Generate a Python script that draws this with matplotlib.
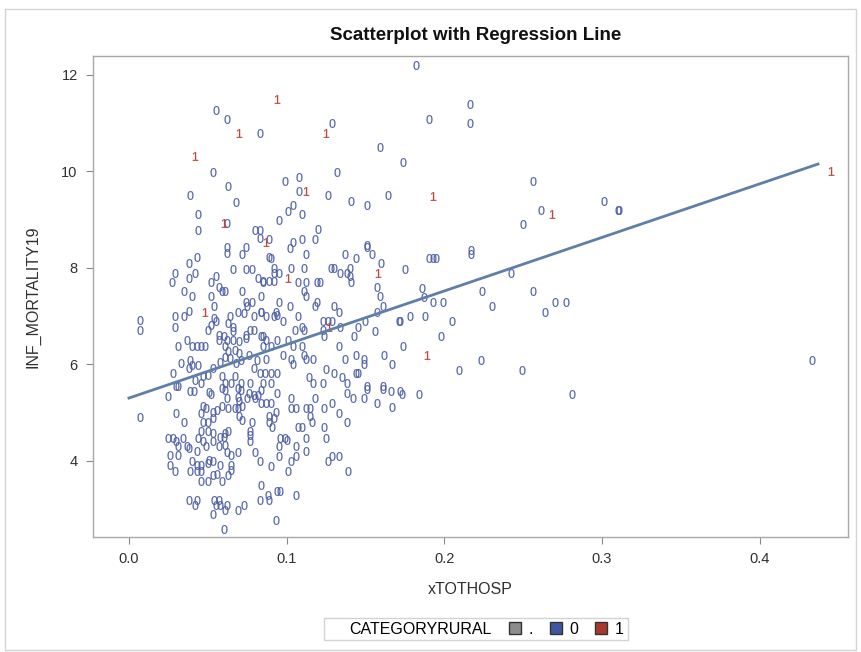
import numpy as np
import matplotlib
matplotlib.use("Agg")
import matplotlib.pyplot as plt
from matplotlib.lines import Line2D
from matplotlib.patches import Rectangle

plt.rcParams['font.family'] = ['Liberation Sans', 'DejaVu Sans']
plt.rcParams['mathtext.fontset'] = 'custom'
plt.rcParams['mathtext.rm'] = 'Liberation Sans'
plt.rcParams['mathtext.it'] = 'Liberation Sans'

# CATEGORYRURAL = 0 as (xTOTHOSP, INF_MORTALITY19)
rural0_top = [
    (0.055, 11.27), (0.062, 11.09), (0.083, 10.80), (0.053, 9.99), (0.063, 9.70), (0.039, 9.50),
    (0.068, 9.37), (0.044, 9.12), (0.062, 8.93), (0.044, 8.79), (0.080, 8.79), (0.083, 8.79),
    (0.083, 8.62), (0.129, 11.00), (0.159, 10.50), (0.174, 10.20), (0.132, 9.99), (0.099, 9.80),
    (0.108, 9.89), (0.108, 9.60), (0.126, 9.50), (0.141, 9.39), (0.151, 9.30), (0.164, 9.50),
    (0.104, 9.30), (0.101, 9.18), (0.110, 9.11), (0.095, 8.99), (0.120, 8.81), (0.089, 8.60),
    (0.104, 8.54), (0.110, 8.60), (0.118, 8.60), (0.151, 8.48), (0.182, 12.21), (0.216, 11.40),
    (0.190, 11.09), (0.216, 11.00),
]
rural0_right = [
    (0.256, 9.80), (0.261, 9.19), (0.250, 8.91), (0.301, 9.39), (0.310, 9.19), (0.311, 9.19),
    (0.217, 8.37), (0.190, 8.21), (0.193, 8.21), (0.195, 8.21), (0.217, 8.29), (0.175, 7.98),
    (0.242, 7.89), (0.186, 7.59), (0.187, 7.40), (0.193, 7.29), (0.199, 7.29), (0.224, 7.51),
    (0.230, 7.20), (0.256, 7.51), (0.270, 7.29), (0.277, 7.29), (0.264, 7.09), (0.172, 6.90),
    (0.178, 7.00), (0.188, 7.00), (0.205, 6.90), (0.198, 6.58), (0.174, 6.38), (0.223, 6.08),
    (0.209, 5.89), (0.249, 5.89), (0.433, 6.08), (0.173, 5.38), (0.184, 5.38), (0.281, 5.38),
]
rural0_mid_left = [
    (0.062, 8.44), (0.062, 8.30), (0.074, 8.44), (0.072, 8.29), (0.043, 8.23), (0.038, 8.10),
    (0.029, 7.90), (0.027, 7.70), (0.038, 7.79), (0.042, 7.90), (0.055, 7.83), (0.052, 7.70),
    (0.057, 7.61), (0.059, 7.51), (0.061, 7.51), (0.066, 7.98), (0.074, 7.98), (0.078, 7.98),
    (0.082, 7.79), (0.085, 7.70), (0.072, 7.51), (0.078, 7.30), (0.074, 7.30), (0.075, 7.20),
    (0.084, 7.09), (0.035, 7.51), (0.040, 7.41), (0.052, 7.41), (0.038, 7.11), (0.035, 7.00),
    (0.029, 7.00), (0.029, 6.78), (0.054, 7.21), (0.055, 6.90), (0.050, 6.71), (0.052, 6.82),
    (0.069, 7.09), (0.073, 7.07), (0.064, 7.00), (0.079, 7.00), (0.066, 6.78), (0.066, 6.68),
    (0.074, 6.61), (0.074, 6.54), (0.077, 6.71), (0.079, 6.71), (0.057, 6.61), (0.060, 6.58),
    (0.057, 6.51), (0.062, 6.51), (0.066, 6.51), (0.085, 6.58), (0.085, 6.37), (0.037, 6.51),
    (0.040, 6.38), (0.043, 6.38), (0.046, 6.38), (0.048, 6.38), (0.031, 6.38), (0.061, 6.37),
    (0.063, 6.27), (0.061, 6.16), (0.067, 6.30), (0.070, 6.23), (0.071, 6.09), (0.068, 6.02),
    (0.081, 6.09), (0.079, 5.92), (0.083, 5.82), (0.033, 6.02), (0.039, 6.09), (0.040, 5.99),
    (0.038, 5.92), (0.044, 5.99), (0.028, 5.82), (0.053, 5.92), (0.050, 5.78), (0.047, 5.75),
    (0.042, 5.68), (0.046, 5.61), (0.061, 5.61), (0.065, 5.61), (0.071, 5.61), (0.077, 5.61),
    (0.059, 5.75), (0.067, 5.75), (0.031, 5.54), (0.007, 6.92), (0.007, 6.71),
    (0.054, 6.95), (0.063, 6.85), (0.070, 6.48), (0.064, 6.12), (0.076, 6.20), (0.058, 6.05),
]
rural0_mid_right = [
    (0.102, 8.41), (0.112, 8.29), (0.089, 8.23), (0.090, 8.20), (0.137, 8.29), (0.144, 8.20),
    (0.151, 8.43), (0.154, 8.29), (0.160, 8.10), (0.092, 7.99), (0.092, 7.90), (0.095, 7.90),
    (0.103, 7.99), (0.111, 7.99), (0.085, 7.72), (0.089, 7.72), (0.092, 7.72), (0.107, 7.70),
    (0.112, 7.70), (0.119, 7.70), (0.121, 7.70), (0.128, 7.99), (0.130, 7.99), (0.134, 7.90),
    (0.138, 7.90), (0.140, 7.99), (0.140, 7.82), (0.141, 7.70), (0.111, 7.51), (0.112, 7.41),
    (0.157, 7.60), (0.159, 7.41), (0.161, 7.20), (0.157, 7.09), (0.084, 7.41), (0.095, 7.30),
    (0.093, 7.09), (0.094, 7.03), (0.102, 7.20), (0.119, 7.30), (0.118, 7.20), (0.130, 7.20),
    (0.133, 7.09), (0.084, 7.09), (0.087, 7.00), (0.092, 7.00), (0.098, 6.89), (0.107, 7.00),
    (0.123, 6.90), (0.126, 6.90), (0.129, 6.90), (0.134, 6.77), (0.124, 6.58), (0.123, 6.71),
    (0.105, 6.71), (0.110, 6.77), (0.111, 6.71), (0.084, 6.58), (0.087, 6.51), (0.094, 6.51),
    (0.101, 6.51), (0.104, 6.37), (0.110, 6.38), (0.090, 6.38), (0.098, 6.20), (0.111, 6.20),
    (0.103, 6.11), (0.104, 6.01), (0.112, 6.11), (0.117, 6.11), (0.087, 6.11), (0.133, 6.38),
    (0.143, 6.59), (0.145, 6.78), (0.156, 6.69), (0.150, 6.89), (0.171, 6.89), (0.144, 6.20),
    (0.149, 6.11), (0.149, 6.01), (0.137, 6.11), (0.162, 6.20), (0.167, 6.01), (0.125, 5.90),
    (0.130, 5.82), (0.135, 5.73), (0.138, 5.61), (0.144, 5.82), (0.145, 5.82), (0.086, 5.82),
    (0.090, 5.82), (0.094, 5.82), (0.085, 5.61), (0.090, 5.61), (0.114, 5.73), (0.117, 5.61),
    (0.123, 5.61), (0.151, 5.54), (0.161, 5.54),
]
rural0_low_left = [
    (0.030, 5.55), (0.025, 5.35), (0.039, 5.44), (0.041, 5.44), (0.051, 5.42), (0.052, 5.39),
    (0.059, 5.51), (0.061, 5.47), (0.069, 5.51), (0.071, 5.47), (0.076, 5.40), (0.079, 5.37),
    (0.082, 5.37), (0.084, 5.47), (0.062, 5.30), (0.007, 4.91), (0.030, 5.00), (0.035, 4.80),
    (0.047, 5.13), (0.049, 5.09), (0.053, 5.02), (0.056, 5.06), (0.059, 5.13), (0.063, 5.09),
    (0.067, 5.09), (0.070, 5.23), (0.069, 5.09), (0.072, 5.13), (0.069, 5.33), (0.075, 5.30),
    (0.080, 5.30), (0.070, 4.92), (0.072, 4.85), (0.046, 4.99), (0.047, 4.81), (0.050, 4.81),
    (0.053, 4.88), (0.078, 4.81), (0.077, 4.61), (0.077, 4.54), (0.046, 4.61), (0.050, 4.61),
    (0.053, 4.57), (0.058, 4.50), (0.060, 4.50), (0.061, 4.57), (0.063, 4.61), (0.025, 4.48),
    (0.028, 4.48), (0.034, 4.48), (0.044, 4.48), (0.030, 4.40), (0.031, 4.30), (0.037, 4.30),
    (0.038, 4.26), (0.043, 4.21), (0.047, 4.40), (0.049, 4.30), (0.053, 4.40), (0.057, 4.30),
    (0.061, 4.33), (0.062, 4.19), (0.065, 4.12), (0.069, 4.19), (0.077, 4.40), (0.080, 4.19),
    (0.083, 3.99), (0.026, 4.12), (0.026, 3.92), (0.029, 3.79), (0.031, 4.12), (0.040, 4.00),
    (0.043, 3.92), (0.043, 3.78), (0.039, 3.79), (0.046, 3.92), (0.046, 3.78), (0.051, 4.02),
    (0.053, 3.99), (0.050, 3.95), (0.058, 3.92), (0.065, 3.92), (0.065, 3.81), (0.046, 3.59),
    (0.050, 3.59), (0.053, 3.71), (0.056, 3.73), (0.059, 3.58), (0.063, 3.71), (0.084, 3.50),
    (0.083, 3.19), (0.038, 3.19), (0.043, 3.19), (0.042, 3.09), (0.054, 3.19), (0.057, 3.19),
    (0.055, 3.09), (0.058, 3.09), (0.062, 3.09), (0.061, 2.98), (0.053, 2.90), (0.069, 2.98),
    (0.073, 3.09), (0.060, 2.59),
]
rural0_low_right = [
    (0.094, 5.40), (0.084, 5.19), (0.087, 5.19), (0.090, 5.19), (0.093, 5.02), (0.092, 4.88),
    (0.089, 4.92), (0.089, 4.81), (0.091, 4.69), (0.103, 5.30), (0.103, 5.09), (0.106, 5.09),
    (0.112, 5.09), (0.115, 5.09), (0.115, 4.92), (0.116, 4.80), (0.118, 5.30), (0.124, 5.09),
    (0.129, 5.19), (0.133, 4.99), (0.138, 4.80), (0.138, 5.40), (0.142, 5.30), (0.149, 5.30),
    (0.151, 5.49), (0.157, 5.19), (0.161, 5.49), (0.166, 5.44), (0.172, 5.44), (0.167, 5.12),
    (0.107, 4.69), (0.110, 4.69), (0.112, 4.48), (0.124, 4.69), (0.125, 4.48), (0.096, 4.48),
    (0.099, 4.48), (0.100, 4.44), (0.095, 4.30), (0.095, 4.09), (0.106, 4.30), (0.106, 4.09),
    (0.103, 3.99), (0.101, 3.79), (0.112, 4.21), (0.129, 4.10), (0.133, 4.10), (0.126, 3.99),
    (0.139, 3.79), (0.090, 3.90), (0.088, 3.30), (0.089, 3.19), (0.094, 3.38), (0.096, 3.38),
    (0.106, 3.30), (0.093, 2.78),
]

# CATEGORYRURAL = 1
rural1 = [
    (0.094, 11.50), (0.070, 10.80), (0.125, 10.80), (0.042, 10.31), (0.060, 8.93), (0.112, 9.60),
    (0.087, 8.54), (0.048, 7.09), (0.101, 7.79), (0.158, 7.90), (0.127, 6.78), (0.193, 9.49),
    (0.268, 9.11), (0.189, 6.20), (0.445, 10.00),
]

# regression line
reg_intercept = 5.30
reg_slope = 11.1
reg_x = [0.0, 0.437]

rural0 = rural0_top + rural0_right + rural0_mid_left + rural0_mid_right + rural0_low_left + rural0_low_right
x0 = np.array([p[0] for p in rural0])
y0 = np.array([p[1] for p in rural0])
x1 = np.array([p[0] for p in rural1])
y1 = np.array([p[1] for p in rural1])

blue = '#4d5fa8'
red = '#c0463a'
line_col = '#5f7fa8'

fig = plt.figure(figsize=(8.61, 6.52), dpi=100)
ax = fig.add_axes([93 / 861, 115 / 652, 755 / 861, 481 / 652])

ax.scatter(x0, y0, marker='$0$', s=40, c=blue, linewidths=0.1, zorder=2)
ax.scatter(x1, y1, marker='$1$', s=40, c=red, linewidths=0.1, zorder=3)
xr = np.array(reg_x)
ax.plot(xr, reg_intercept + reg_slope * xr, color=line_col, lw=2.0, zorder=4)

ax.set_xlim(-0.0228, 0.456)
ax.set_ylim(2.42, 12.39)
ax.set_xticks([0.0, 0.1, 0.2, 0.3, 0.4])
ax.set_xticklabels(['0.0', '0.1', '0.2', '0.3', '0.4'])
ax.set_yticks([4, 6, 8, 10, 12])
ax.tick_params(direction='out', length=5, color='#8a8a8a', labelsize=10.5,
               labelcolor='#303030', pad=6)
for sp in ax.spines.values():
    sp.set_color('#a8a8a8')
    sp.set_linewidth(1.0)

fig.text(476 / 861, 1 - 36 / 652, 'Scatterplot with Regression Line', ha='center', va='center',
         fontsize=13.5, fontweight='bold', color='#111111')
fig.text(470 / 861, 1 - 590 / 652, 'xTOTHOSP', ha='center', va='center', fontsize=11.5, color='#303030')
fig.text(33 / 861, 1 - 297 / 652, 'INF_MORTALITY19', ha='center', va='center', rotation=90,
         fontsize=11.5, color='#303030')

handles = [
    Line2D([], [], linestyle='none', marker=None),
    Line2D([], [], linestyle='none', marker='s', markersize=9, markerfacecolor='#8c8c8c', markeredgecolor='#333333'),
    Line2D([], [], linestyle='none', marker='s', markersize=9, markerfacecolor='#3f57a0', markeredgecolor='#333333'),
    Line2D([], [], linestyle='none', marker='s', markersize=9, markerfacecolor='#a8382c', markeredgecolor='#333333'),
]
leg = fig.legend(handles, ['CATEGORYRURAL', '.', '0', '1'], loc='center', ncol=4,
                 bbox_to_anchor=(476 / 861, 1 - 629 / 652), frameon=True, fancybox=False,
                 fontsize=11.5, handlelength=0.9, handletextpad=0.4, columnspacing=1.0,
                 borderpad=0.25, edgecolor='#c8c8c8')
leg.get_frame().set_linewidth(1.0)

fig.patches.append(Rectangle((5 / 861, 2 / 652), 851 / 861, 641 / 652, transform=fig.transFigure,
                             fill=False, edgecolor='#d4d4d4', lw=1.0))

fig.savefig('out.png', dpi=100)
